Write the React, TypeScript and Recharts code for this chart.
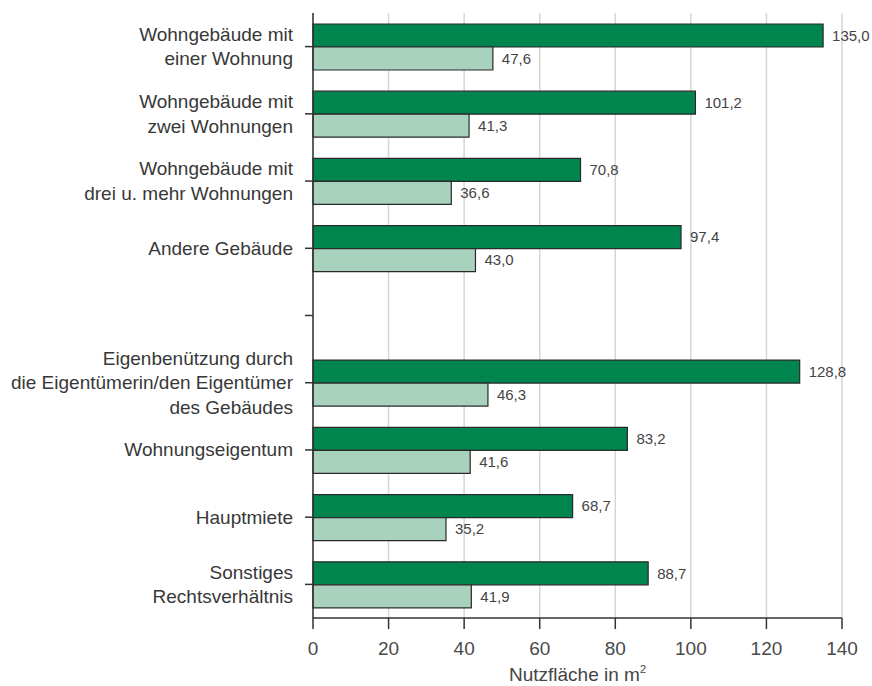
import React from 'react';
import { BarChart, Bar, XAxis, YAxis, CartesianGrid, LabelList, Label } from 'recharts';

const categories = [
  'Wohngebäude mit\neiner Wohnung',
  'Wohngebäude mit\nzwei Wohnungen',
  'Wohngebäude mit\ndrei u. mehr Wohnungen',
  'Andere Gebäude',
  ' ',
  'Eigenbenützung durch\ndie Eigentümerin/den Eigentümer\ndes Gebäudes',
  'Wohnungseigentum',
  'Hauptmiete',
  'Sonstiges\nRechtsverhältnis',
];
const proWohnung = [135.0, 101.2, 70.8, 97.4, null, 128.8, 83.2, 68.7, 88.7];
const proPerson = [47.6, 41.3, 36.6, 43.0, null, 46.3, 41.6, 35.2, 41.9];
const xTicks = [0, 20, 40, 60, 80, 100, 120, 140];

const data = categories.map((name, i) => ({
  name,
  wohnung: proWohnung[i],
  person: proPerson[i],
}));

const FONT = '"Liberation Sans", Arial, Helvetica, sans-serif';

const fmt = (v: any) => (v === null || v === undefined ? '' : Number(v).toFixed(1).replace('.', ','));

const CategoryTick: React.FC<any> = ({ x, y, payload }) => {
  const lines = String(payload.value).split('\n');
  const lh = 24.5;
  const start = -((lines.length - 1) / 2) * lh;
  return (
    <text x={x} y={y} textAnchor="end" fill="#383838" fontSize={19} fontFamily={FONT}>
      {lines.map((l, i) => (
        <tspan key={i} x={x} dy={i === 0 ? start + 6.5 : lh}>
          {l}
        </tspan>
      ))}
    </text>
  );
};

const AxisTitle: React.FC<any> = ({ viewBox }) => {
  const cx = viewBox.x + viewBox.width / 2;
  return (
    <text x={cx} y={681} textAnchor="middle" fill="#444" fontSize={19} fontFamily={FONT}>
      Nutzfläche in m
      <tspan fontSize={11} dy={-8}>2</tspan>
    </text>
  );
};

export default function App() {
  return (
    <div style={{ position: 'absolute', left: 0, top: 0 }}>
      <BarChart
        width={872}
        height={686}
        data={data}
        layout="vertical"
        margin={{ top: 13, right: 30, left: 0, bottom: 0 }}
        barGap={0}
      >
        <CartesianGrid horizontal={false} stroke="#d6d6d6" strokeWidth={1.5} />
        <XAxis
          type="number"
          domain={[0, 140]}
          ticks={xTicks}
          height={68}
          tickSize={11}
          tickMargin={13}
          axisLine={{ stroke: '#333', strokeWidth: 1.5 }}
          tickLine={{ stroke: '#333', strokeWidth: 1.5 }}
          tick={{ fill: '#4a4a4a', fontSize: 19, fontFamily: FONT }}
        >
          <Label content={<AxisTitle />} />
        </XAxis>
        <YAxis
          type="category"
          dataKey="name"
          width={313}
          tickSize={8}
          tickMargin={12}
          interval={0}
          axisLine={{ stroke: '#333', strokeWidth: 1.5 }}
          tickLine={{ stroke: '#333', strokeWidth: 1.5 }}
          tick={<CategoryTick />}
        />
        <Bar dataKey="wohnung" fill="#00854f" stroke="#2a2a2a" strokeWidth={1.2} barSize={23} isAnimationActive={false}>
          <LabelList dataKey="wohnung" position="right" offset={9} formatter={fmt} fill="#444" fontSize={15} fontFamily={FONT} />
        </Bar>
        <Bar dataKey="person" fill="#a8d2bd" stroke="#2a2a2a" strokeWidth={1.2} barSize={23} isAnimationActive={false}>
          <LabelList dataKey="person" position="right" offset={9} formatter={fmt} fill="#444" fontSize={15} fontFamily={FONT} />
        </Bar>
      </BarChart>
    </div>
  );
}
